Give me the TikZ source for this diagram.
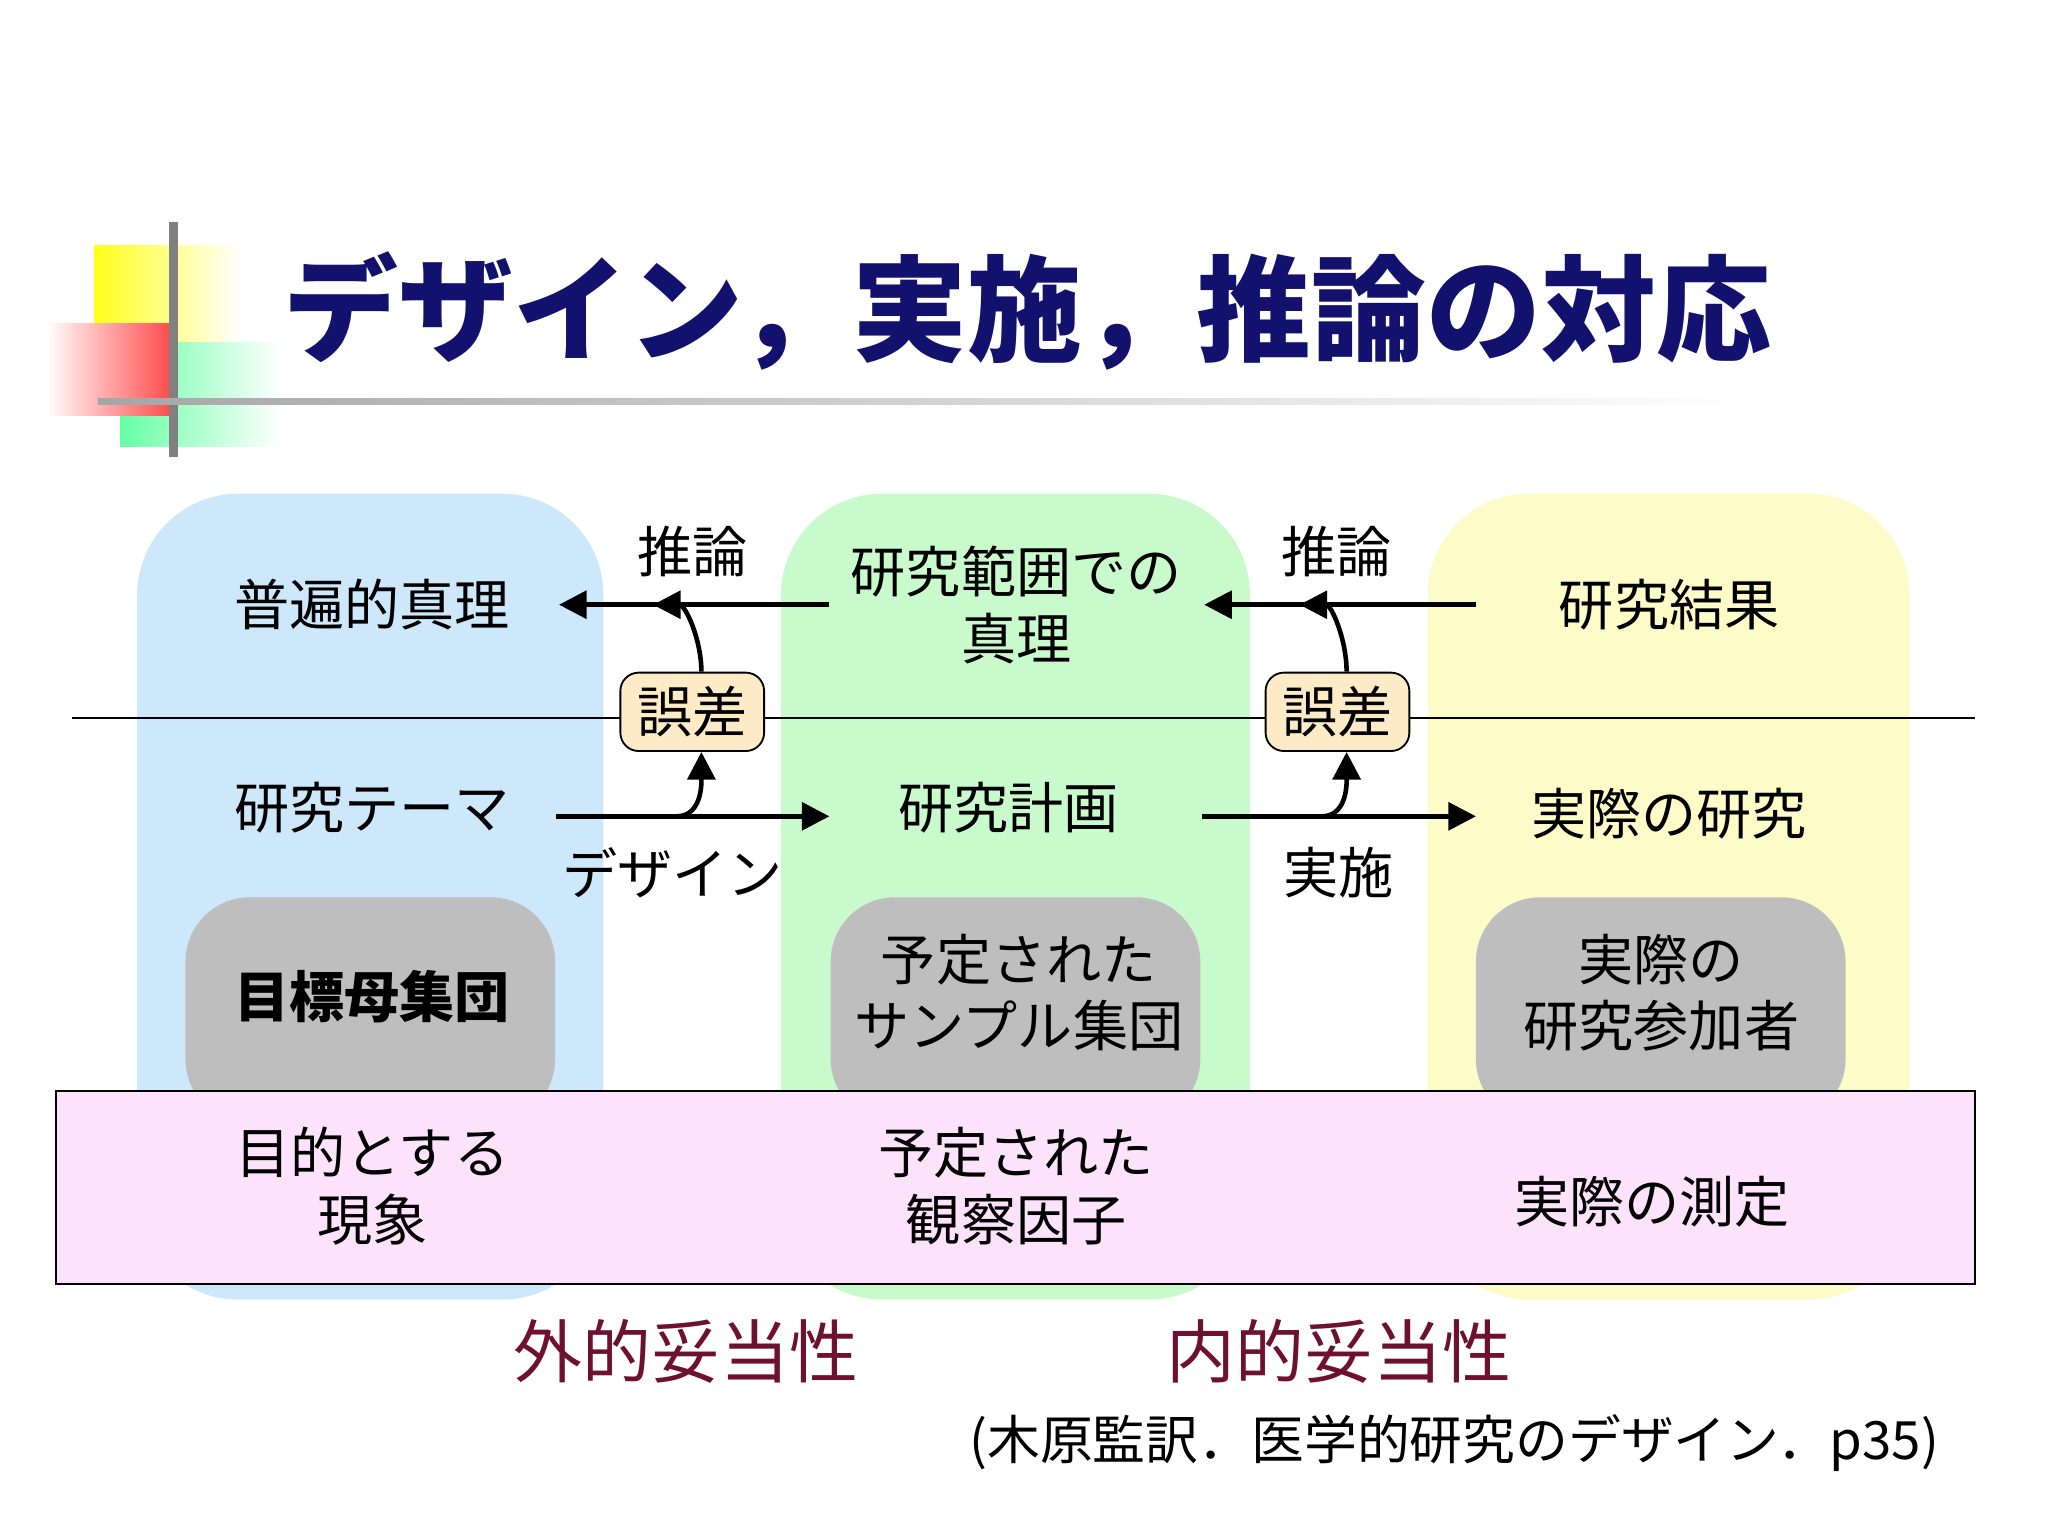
\documentclass[tikz,border=0pt]{standalone}
\usepackage{fontspec}
\setmainfont{Noto Sans CJK JP}
\usetikzlibrary{arrows.meta}
\definecolor{colblue}{HTML}{CDE8FB}
\definecolor{colgreen}{HTML}{C8FACB}
\definecolor{colyellow}{HTML}{FDFCC8}
\definecolor{colgray}{HTML}{BEBEBE}
\definecolor{colpink}{HTML}{FCE2FA}
\definecolor{colerr}{HTML}{FDEBC8}
\definecolor{navy}{HTML}{12126E}
\definecolor{maroon}{HTML}{6E1030}
\tikzset{
  column/.style={rounded corners=22pt},
  lbl/.style={font=\fontsize{12}{14.5}\selectfont, align=center},
  err/.style={draw, fill=colerr, rounded corners=4pt, font=\fontsize{12}{14.5}\selectfont, minimum width=1.1cm, minimum height=0.6cm, inner sep=1pt},
  arr/.style={-{Triangle[length=6pt,width=6pt]}, line width=1pt},
  valid/.style={font=\fontsize{15}{18}\selectfont, text=maroon},
}
\begin{document}
\begin{tikzpicture}[x=0.01cm, y=-0.01cm]
  \useasboundingbox (0,0) rectangle (1568,1176);
  % title decoration
  \shade[left color=yellow!90, right color=white] (72,188) rectangle (185,262);
  \shade[left color=green!60!cyan!60, right color=white] (92,262) rectangle (215,342);
  \shade[left color=white, right color=red!70] (35,248) rectangle (130,318);
  \draw[gray, line width=2pt] (133,170) -- (133,350);
  \shade[left color=gray!70, right color=white] (75,305) rectangle (1340,310);
  \node[font=\bfseries\fontsize{25}{30}\selectfont, text=navy, anchor=west] (title) at (205,238) {デザイン，実施，推論の対応};

  % columns
  \fill[colblue, column] (105,378) rectangle (462,995);
  \fill[colgreen, column] (598,378) rectangle (957,995);
  \fill[colyellow, column] (1093,378) rectangle (1462,995);
  \draw (55,550) -- (1512,550);
  \foreach \x in {142,636,1130}
    \fill[colgray, rounded corners=14pt] (\x,687) rectangle (\x+283,860);
  \draw[fill=colpink] (43,835) rectangle (1512,983);

  % upper row
  \node[lbl] (truth) at (285,463) {普遍的真理};
  \node[lbl] (scope) at (778,463) {研究範囲での\\真理};
  \node[lbl] (result) at (1278,463) {研究結果};
  \node[lbl] (inf1) at (530,422) {推論};
  \node[lbl] (inf2) at (1023,422) {推論};
  \coordinate (t1) at (635,463);
  \coordinate (t2) at (428,463);
  \coordinate (t3) at (1130,463);
  \coordinate (t4) at (922,463);
  \coordinate (m1) at (500,463);
  \coordinate (m2) at (995,463);
  \draw[arr] (t1) -- (t2);
  \draw[arr] (t3) -- (t4);

  % errors
  \node[err] (err1) at (530,545) {誤差};
  \node[err] (err2) at (1024,545) {誤差};
  \draw[arr] ([xshift=0.07cm]err1.north) to[out=90, in=0] (m1);
  \draw[arr] ([xshift=0.07cm]err2.north) to[out=90, in=0] (m2);

  % lower row
  \node[lbl] (theme) at (285,618) {研究テーマ};
  \node[lbl] (plan) at (772,618) {研究計画};
  \node[lbl] (actual) at (1278,623) {実際の研究};
  \coordinate (b1) at (426,625);
  \coordinate (b2) at (635,625);
  \coordinate (b3) at (920,625);
  \coordinate (b4) at (1130,625);
  \coordinate (n1) at (518,625);
  \coordinate (n2) at (1012,625);
  \draw[arr] (b1) -- (b2);
  \draw[arr] (b3) -- (b4);
  \draw[arr] (n1) to[out=0, in=-90] ([xshift=0.07cm]err1.south);
  \draw[arr] (n2) to[out=0, in=-90] ([xshift=0.07cm]err2.south);
  \node[lbl] (design) at (515,668) {デザイン};
  \node[lbl] (impl) at (1025,668) {実施};

  % populations
  \node[lbl, font=\bfseries\fontsize{12}{14.5}\selectfont] (target) at (285,763) {目標母集団};
  \node[lbl] (sample) at (780,760) {予定された\\サンプル集団};
  \node[lbl] (part) at (1272,760) {実際の\\研究参加者};

  % measurements
  \node[lbl] (phen) at (285,908) {目的とする\\現象};
  \node[lbl] (factor) at (778,908) {予定された\\観察因子};
  \node[lbl] (meas) at (1265,920) {実際の測定};

  \node[valid] (ext) at (525,1035) {外的妥当性};
  \node[valid] (int) at (1025,1035) {内的妥当性};
  \node[lbl, anchor=east, font=\fontsize{11.5}{14}\selectfont] (src) at (1497,1105) {(木原監訳．医学的研究のデザイン．p35)};
\end{tikzpicture}
\end{document}
